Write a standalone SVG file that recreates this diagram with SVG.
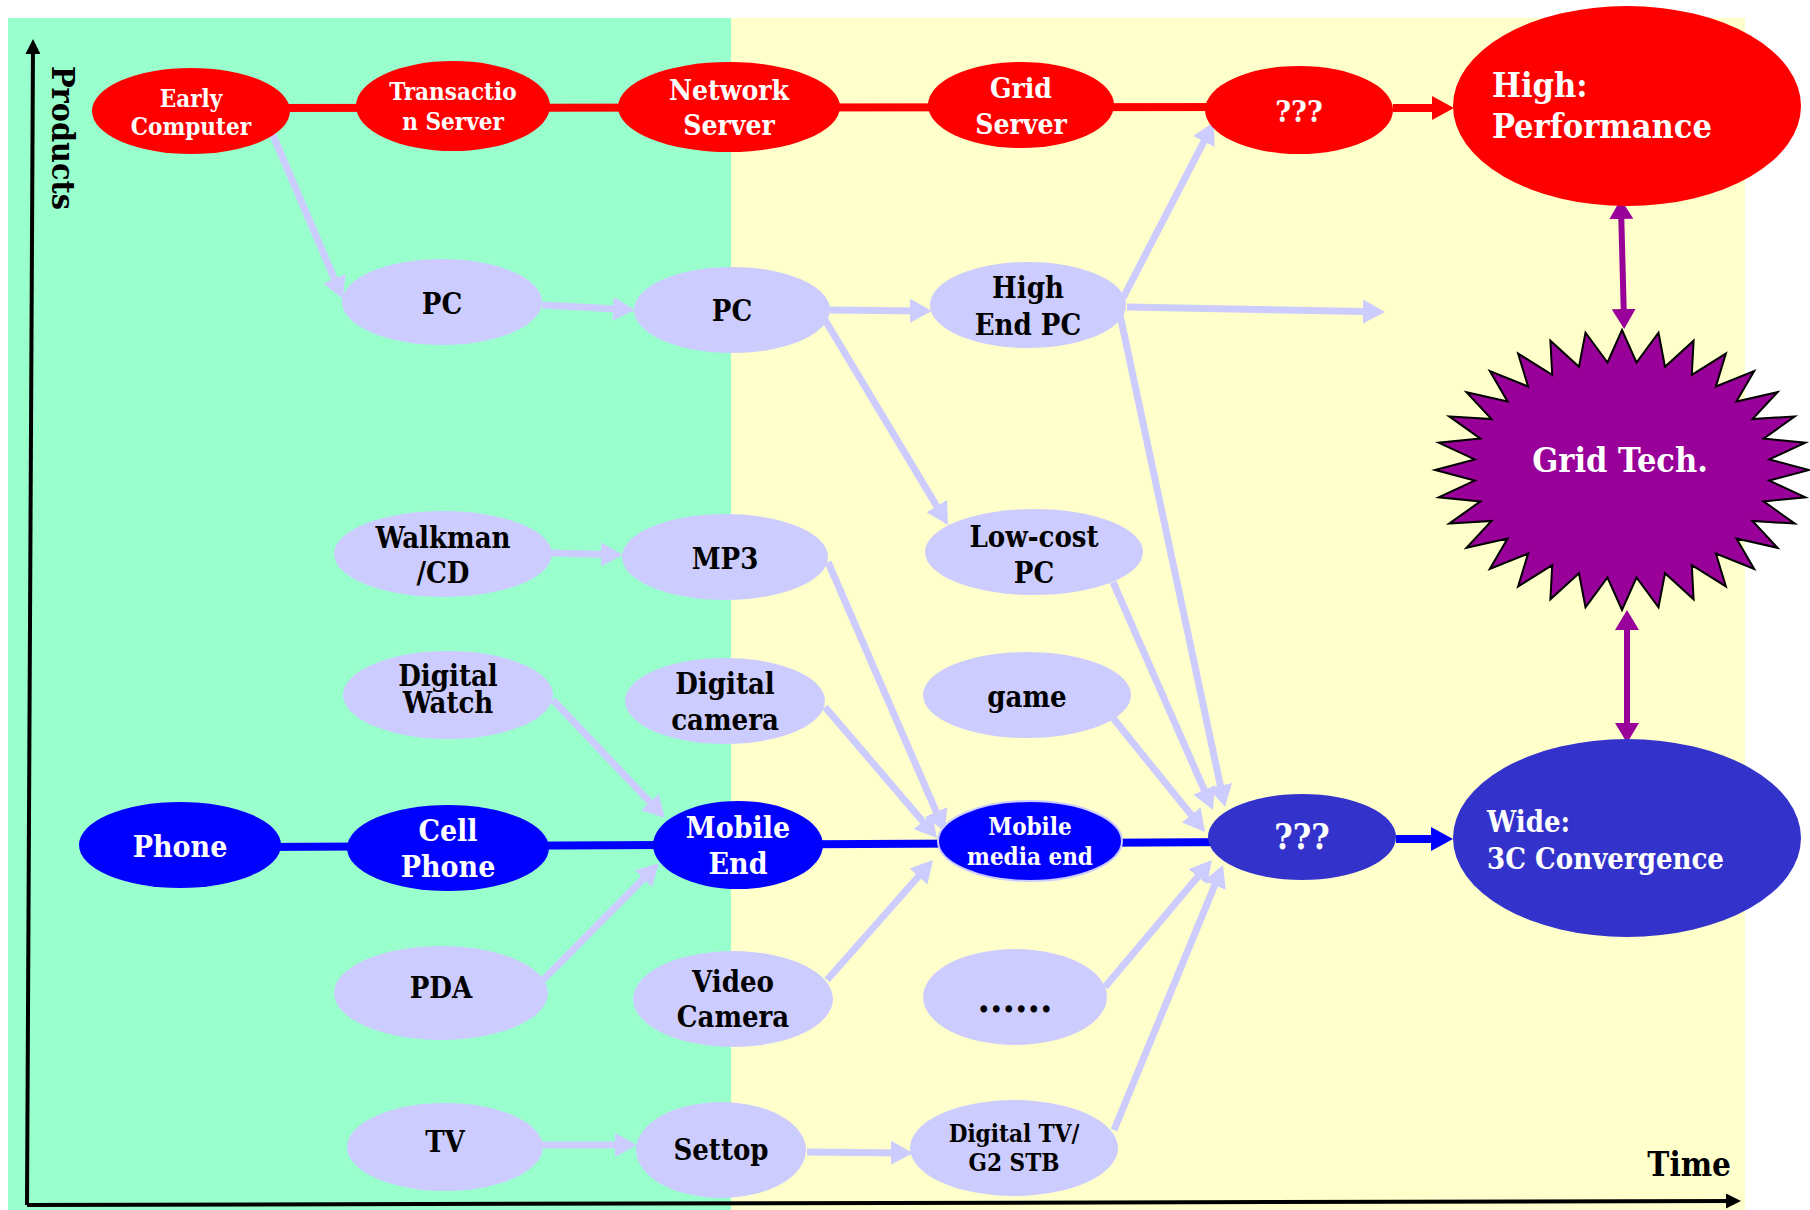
<svg xmlns="http://www.w3.org/2000/svg" width="1810" height="1210" viewBox="0 0 1810 1210">
<style>
text{font-family:"DejaVu Serif Condensed","DejaVu Serif",serif;font-weight:bold;text-anchor:middle}
.w{fill:#FFFFFF}.k{fill:#000000}
.red{fill:#FF0000}.lav{fill:#CCCCFF}.blu{fill:#0000FF}.dbl{fill:#3333CC}
.la{stroke:#CCCCFF;stroke-width:7;fill:none;marker-end:url(#aL)}
.s24{font-size:24px}.s28{font-size:28px}.s29{font-size:29px}.s30{font-size:30px}.s34{font-size:34px}.s35{font-size:35px}
</style>
<defs>
<marker id="aL" markerUnits="userSpaceOnUse" markerWidth="22" markerHeight="24" viewBox="0 0 22 24" refX="14" refY="12" orient="auto"><path d="M0,0 L22,12 L0,24 z" fill="#CCCCFF"/></marker>
<marker id="aR" markerUnits="userSpaceOnUse" markerWidth="22" markerHeight="24" viewBox="0 0 22 24" refX="14" refY="12" orient="auto"><path d="M0,0 L22,12 L0,24 z" fill="#FF0000"/></marker>
<marker id="aB" markerUnits="userSpaceOnUse" markerWidth="22" markerHeight="24" viewBox="0 0 22 24" refX="14" refY="12" orient="auto"><path d="M0,0 L22,12 L0,24 z" fill="#0000FF"/></marker>
<marker id="aP" markerUnits="userSpaceOnUse" markerWidth="20" markerHeight="24" viewBox="0 0 20 24" refX="12" refY="12" orient="auto-start-reverse"><path d="M0,0 L20,12 L0,24 z" fill="#990099"/></marker>
<marker id="aK" markerUnits="userSpaceOnUse" markerWidth="15" markerHeight="15" viewBox="0 0 15 15" refX="10" refY="7.5" orient="auto"><path d="M0,0 L15,7.5 L0,15 z" fill="#000000"/></marker>
</defs>

<g id="background">
<rect x="8" y="18" width="723" height="1192" fill="#99FFCC"/>
<rect x="731" y="18" width="1014" height="1192" fill="#FFFFCC"/>
</g>

<g id="axes">
<line x1="27" y1="1205" x2="33" y2="44" stroke="#000" stroke-width="4" marker-end="url(#aK)"/>
<line x1="27" y1="1205" x2="1736" y2="1201" stroke="#000" stroke-width="4" marker-end="url(#aK)"/>
<text class="k" font-size="32" transform="translate(52,138) rotate(90)">Products</text>
<text class="k" font-size="33" x="1731" y="1176" style="text-anchor:end">Time</text>
</g>

<g id="connectors">
<line x1="250" y1="108" x2="1250" y2="107" stroke="#FF0000" stroke-width="8"/>
<line x1="1393" y1="108" x2="1446" y2="108" stroke="#FF0000" stroke-width="8" marker-end="url(#aR)"/>
<line x1="260" y1="847" x2="1240" y2="842" stroke="#0000FF" stroke-width="8"/>
<line x1="1396" y1="839" x2="1445" y2="839" stroke="#0000FF" stroke-width="8" marker-end="url(#aB)"/>
<line x1="1621" y1="207" x2="1624" y2="321" stroke="#990099" stroke-width="6" marker-start="url(#aP)" marker-end="url(#aP)"/>
<line x1="1627" y1="618" x2="1627" y2="735" stroke="#990099" stroke-width="6" marker-start="url(#aP)" marker-end="url(#aP)"/>
<line class="la" x1="272" y1="133" x2="339.9" y2="291.6"/>
<line class="la" x1="542" y1="305" x2="627" y2="309.6"/>
<line class="la" x1="830" y1="310" x2="924" y2="310.9"/>
<line class="la" x1="825" y1="320" x2="943.9" y2="518.1"/>
<line class="la" x1="1123" y1="298" x2="1210.3" y2="129.1"/>
<line class="la" x1="1127" y1="307" x2="1377" y2="311.8"/>
<line class="la" x1="1120" y1="315" x2="1223.3" y2="799.2"/>
<line class="la" x1="1113" y1="582" x2="1209.8" y2="802.7"/>
<line class="la" x1="1113" y1="718" x2="1200" y2="825.8"/>
<line class="la" x1="1105" y1="987" x2="1206.8" y2="866.1"/>
<line class="la" x1="1114" y1="1130" x2="1220" y2="872.4"/>
<line class="la" x1="552" y1="553" x2="615" y2="554.8"/>
<line class="la" x1="828" y1="562" x2="941.8" y2="824.7"/>
<line class="la" x1="825" y1="707" x2="931.8" y2="831.9"/>
<line class="la" x1="827" y1="980" x2="927.7" y2="866"/>
<line class="la" x1="553" y1="700" x2="659.5" y2="812.2"/>
<line class="la" x1="543" y1="980" x2="653.4" y2="868.7"/>
<line class="la" x1="542" y1="1145" x2="629" y2="1145"/>
<line class="la" x1="807" y1="1152" x2="905" y2="1152.9"/>
</g>

<g id="n-early-computer"><ellipse class="red" cx="191" cy="111" rx="99" ry="43"/><text class="w s24" x="191" y="107">Early</text><text class="w s24" x="191" y="135">Computer</text></g>
<g id="n-transaction-server"><ellipse class="red" cx="453" cy="106" rx="97" ry="45"/><text class="w s24" x="453" y="100">Transactio</text><text class="w s24" x="453" y="130">n Server</text></g>
<g id="n-network-server"><ellipse class="red" cx="729" cy="107" rx="111" ry="45"/><text class="w s28" x="729" y="100">Network</text><text class="w s28" x="729" y="135">Server</text></g>
<g id="n-grid-server"><ellipse class="red" cx="1021" cy="105" rx="93" ry="43"/><text class="w s28" x="1021" y="98">Grid</text><text class="w s28" x="1021" y="134">Server</text></g>
<g id="n-top-unknown"><ellipse class="red" cx="1299" cy="110" rx="94" ry="44"/><text class="w s30" x="1299" y="122">???</text></g>
<g id="n-high-performance"><ellipse class="red" cx="1627" cy="106" rx="174" ry="100"/><text class="w s34" x="1492" y="97" style="text-anchor:start">High:</text><text class="w s34" x="1492" y="138" style="text-anchor:start">Performance</text></g>

<g id="n-pc1"><ellipse class="lav" cx="442" cy="302" rx="100" ry="43"/><text class="k s29" x="442" y="314">PC</text></g>
<g id="n-pc2"><ellipse class="lav" cx="732" cy="310" rx="98" ry="43"/><text class="k s29" x="732" y="321">PC</text></g>
<g id="n-high-end-pc"><ellipse class="lav" cx="1028" cy="305" rx="98" ry="43"/><text class="k s29" x="1028" y="298">High</text><text class="k s29" x="1028" y="335">End PC</text></g>
<g id="n-low-cost-pc"><ellipse class="lav" cx="1034" cy="552" rx="109" ry="43"/><text class="k s29" x="1034" y="547">Low-cost</text><text class="k s29" x="1034" y="583">PC</text></g>
<g id="n-walkman"><ellipse class="lav" cx="443" cy="554" rx="109" ry="43"/><text class="k s29" x="443" y="548">Walkman</text><text class="k s29" x="443" y="583">/CD</text></g>
<g id="n-mp3"><ellipse class="lav" cx="725" cy="557" rx="103" ry="43"/><text class="k s29" x="725" y="569">MP3</text></g>
<g id="n-digital-watch"><ellipse class="lav" cx="448" cy="695" rx="105" ry="44"/><text class="k s29" x="448" y="686">Digital</text><text class="k s29" x="448" y="713">Watch</text></g>
<g id="n-digital-camera"><ellipse class="lav" cx="725" cy="701" rx="100" ry="43"/><text class="k s29" x="725" y="694">Digital</text><text class="k s29" x="725" y="730">camera</text></g>
<g id="n-game"><ellipse class="lav" cx="1027" cy="695" rx="104" ry="43"/><text class="k s29" x="1027" y="707">game</text></g>
<g id="n-pda"><ellipse class="lav" cx="441" cy="993" rx="107" ry="47"/><text class="k s29" x="441" y="998">PDA</text></g>
<g id="n-video-camera"><ellipse class="lav" cx="733" cy="999" rx="100" ry="48"/><text class="k s29" x="733" y="992">Video</text><text class="k s29" x="733" y="1027">Camera</text></g>
<g id="n-more"><ellipse class="lav" cx="1015" cy="997" rx="92" ry="48"/><text class="k" font-size="40" x="1015" y="1012">......</text></g>
<g id="n-tv"><ellipse class="lav" cx="445" cy="1147" rx="98" ry="44"/><text class="k s29" x="445" y="1152">TV</text></g>
<g id="n-settop"><ellipse class="lav" cx="721" cy="1150" rx="85" ry="48"/><text class="k s29" x="721" y="1160">Settop</text></g>
<g id="n-digital-tv"><ellipse class="lav" cx="1014" cy="1148" rx="104" ry="48"/><text class="k s24" x="1014" y="1142">Digital TV/</text><text class="k s24" x="1014" y="1171">G2 STB</text></g>

<g id="n-phone"><ellipse class="blu" cx="180" cy="845" rx="101" ry="43"/><text class="w s30" x="180" y="857">Phone</text></g>
<g id="n-cell-phone"><ellipse class="blu" cx="448" cy="848" rx="101" ry="43"/><text class="w s30" x="448" y="841">Cell</text><text class="w s30" x="448" y="877">Phone</text></g>
<g id="n-mobile-end"><ellipse class="blu" cx="738" cy="845" rx="85" ry="44"/><text class="w s30" x="738" y="838">Mobile</text><text class="w s30" x="738" y="874">End</text></g>
<g id="n-mobile-media-end"><ellipse class="blu" cx="1030" cy="841" rx="92" ry="40" stroke="#CCCCFF" stroke-width="2"/><text class="w s24" x="1030" y="835">Mobile</text><text class="w s24" x="1030" y="865">media end</text></g>
<g id="n-bottom-unknown"><ellipse class="dbl" cx="1302" cy="837" rx="94" ry="43"/><text class="w s35" x="1302" y="849">???</text></g>
<g id="n-wide"><ellipse class="dbl" cx="1627" cy="838" rx="174" ry="99"/><text class="w s29" x="1487" y="832" style="text-anchor:start">Wide:</text><text class="w s29" x="1487" y="869" style="text-anchor:start">3C Convergence</text></g>

<g id="n-grid-tech">
<polygon fill="#990099" stroke="#000" stroke-width="2" points="1622,330 1636.5,362.5 1658.5,332.7 1665,366.7 1693.6,340.7 1691.8,374.8 1725.9,353.6 1715.9,386.5 1754.2,371 1736.4,401.5 1777.5,392.2 1752.5,419.1 1794.8,416.4 1763.6,438.6 1805.4,442.7 1769.3,459.4 1809,470 1769.3,480.6 1805.4,497.3 1763.6,501.4 1794.8,523.6 1752.5,520.9 1777.5,547.8 1736.4,538.5 1754.2,569 1715.9,553.5 1725.9,586.4 1691.8,565.2 1693.6,599.3 1665,573.3 1658.5,607.3 1636.5,577.5 1622,610 1607.5,577.5 1585.5,607.3 1579,573.3 1550.4,599.3 1552.2,565.2 1518.1,586.4 1528.1,553.5 1489.8,569 1507.6,538.5 1466.5,547.8 1491.5,520.9 1449.2,523.6 1480.4,501.4 1438.6,497.3 1474.7,480.6 1435,470 1474.7,459.4 1438.6,442.7 1480.4,438.6 1449.2,416.4 1491.5,419.1 1466.5,392.2 1507.6,401.5 1489.8,371 1528.1,386.5 1518.1,353.6 1552.2,374.8 1550.4,340.7 1579,366.7 1585.5,332.7 1607.5,362.5"/>
<text class="w" font-size="34" x="1620" y="472">Grid Tech.</text>
</g>
</svg>
